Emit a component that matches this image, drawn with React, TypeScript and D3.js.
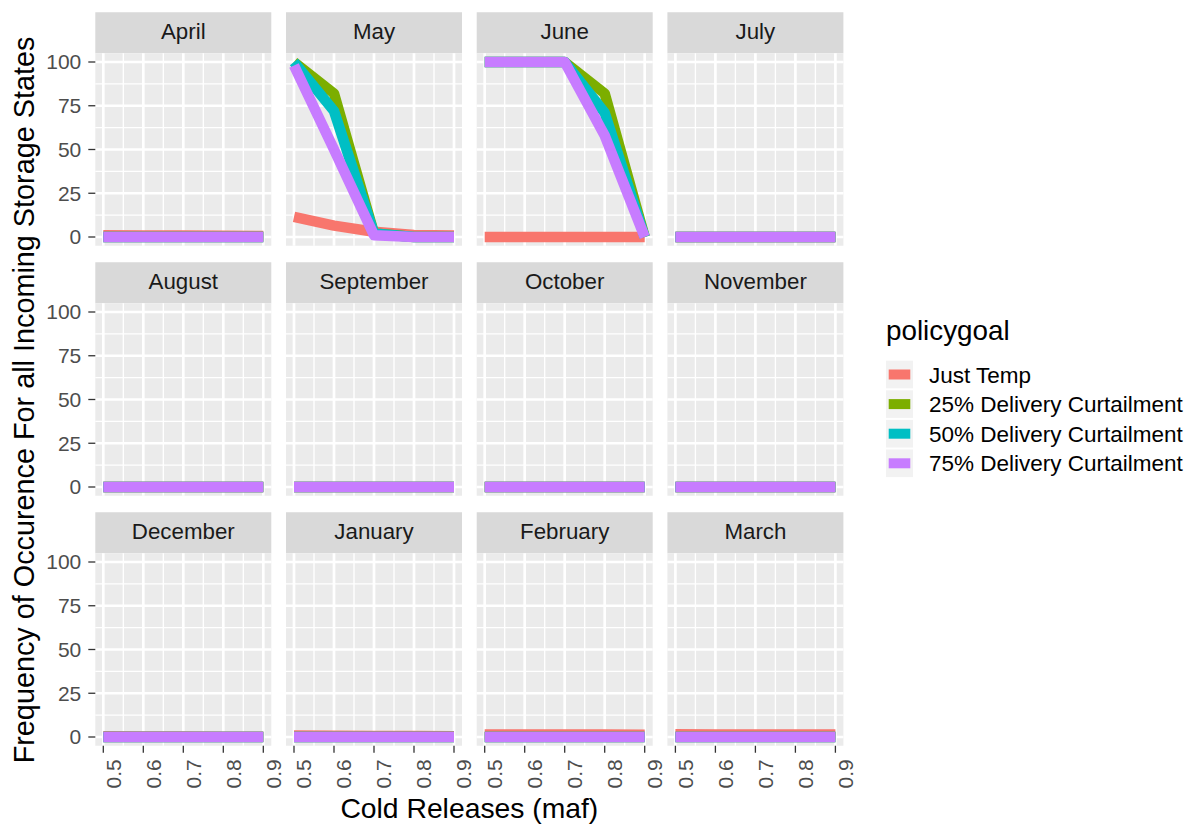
import React from "react";
import * as d3 from "d3";

const months = ["April", "May", "June", "July", "August", "September", "October", "November", "December", "January", "February", "March"];
const releases = [0.5, 0.6, 0.7, 0.8, 0.9];
const policyGoals = ["Just Temp", "25% Delivery Curtailment", "50% Delivery Curtailment", "75% Delivery Curtailment"];
const goalColors = ["#F8766D", "#7CAE00", "#00BFC4", "#C77CFF"];
const xTicks = [0.5, 0.6, 0.7, 0.8, 0.9];
const xMinor = [0.55, 0.65, 0.75, 0.85];
const yTicks = [0, 25, 50, 75, 100];
const yMinor = [12.5, 37.5, 62.5, 87.5];

// values per month (rows) at each cold release (columns)
const justTemp = [
  [1.0, 0.9, 0.8, 0.7, 0.6],
  [11.5, 6.5, 3, 1.2, 0.8],
  [0, 0, 0, 0, 0],
  [0, 0, 0, 0, 0],
  [0, 0, 0, 0, 0],
  [0, 0, 0, 0, 0],
  [0, 0, 0, 0, 0],
  [0, 0, 0, 0, 0],
  [0.4, 0.3, 0.3, 0.2, 0.2],
  [0.8, 0.7, 0.6, 0.6, 0.5],
  [1.5, 1.5, 1.4, 1.4, 1.3],
  [1.6, 1.5, 1.5, 1.4, 1.4],
];
const curtail25 = [
  [0, 0, 0, 0, 0],
  [100, 82, 2, 0, 0],
  [100, 100, 100, 82, 0],
  [0, 0, 0, 0, 0],
  [0, 0, 0, 0, 0],
  [0, 0, 0, 0, 0],
  [0, 0, 0, 0, 0],
  [0, 0, 0, 0, 0],
  [0, 0, 0, 0, 0],
  [0, 0, 0, 0, 0],
  [0, 0, 0, 0, 0],
  [0, 0, 0, 0, 0],
];
const curtail50 = [
  [0, 0, 0, 0, 0],
  [100, 72, 2, 0, 0],
  [100, 100, 100, 71, 0],
  [0, 0, 0, 0, 0],
  [0, 0, 0, 0, 0],
  [0, 0, 0, 0, 0],
  [0, 0, 0, 0, 0],
  [0, 0, 0, 0, 0],
  [0, 0, 0, 0, 0],
  [0, 0, 0, 0, 0],
  [0, 0, 0, 0, 0],
  [0, 0, 0, 0, 0],
];
const curtail75 = [
  [0, 0, 0, 0, 0],
  [98, 50, 1, 0, 0],
  [100, 100, 100, 58, 0],
  [0, 0, 0, 0, 0],
  [0, 0, 0, 0, 0],
  [0, 0, 0, 0, 0],
  [0, 0, 0, 0, 0],
  [0, 0, 0, 0, 0],
  [0, 0, 0, 0, 0],
  [0, 0, 0, 0, 0],
  [0, 0, 0, 0, 0],
  [0, 0, 0, 0, 0],
];
const seriesData = [justTemp, curtail25, curtail50, curtail75];

const FONT = "'Liberation Sans', Arial, Helvetica, sans-serif";

export default function App() {
  const W = 1198, H = 828;
  const colX = [95.3, 286, 476.7, 667.4];
  const rowY = [53.25, 303.25, 553.25];
  const panelW = 176, panelH = 192.5, stripH = 41;
  const x = d3.scaleLinear().domain([0.48, 0.92]).range([0, panelW]);
  const y = d3.scaleLinear().domain([-5, 105]).range([panelH, 0]);
  const line = d3.line<number>().x((_, i) => x(releases[i])).y((d) => y(d));
  const lw = 10.5;

  const legendX = 886, legendKeyTop = 360.7, keyStep = 29.6, keyW = 27, keyH = 27.6;

  return (
    <svg width={W} height={H} style={{ position: "absolute", left: 0, top: 0, background: "#fff" }} fontFamily={FONT}>
      <rect x={0} y={0} width={W} height={H} fill="#fff" />
      {months.map((m, mi) => {
        const c = mi % 4, r = Math.floor(mi / 4);
        const px = colX[c], py = rowY[r];
        return (
          <g key={m} transform={`translate(${px},${py})`}>
            <rect x={0} y={-stripH} width={panelW} height={stripH} fill="#D9D9D9" />
            <text x={panelW / 2} y={-stripH / 2 - 1.5} dy="0.35em" textAnchor="middle" fontSize={22.3} fill="#1A1A1A">{m}</text>
            <rect x={0} y={0} width={panelW} height={panelH} fill="#EBEBEB" />
            {xMinor.map((t) => (
              <line key={"xm" + t} x1={x(t)} x2={x(t)} y1={0} y2={panelH} stroke="#fff" strokeWidth={1.35} />
            ))}
            {yMinor.map((t) => (
              <line key={"ym" + t} x1={0} x2={panelW} y1={y(t)} y2={y(t)} stroke="#fff" strokeWidth={1.35} />
            ))}
            {xTicks.map((t) => (
              <line key={"xM" + t} x1={x(t)} x2={x(t)} y1={0} y2={panelH} stroke="#fff" strokeWidth={2.7} />
            ))}
            {yTicks.map((t) => (
              <line key={"yM" + t} x1={0} x2={panelW} y1={y(t)} y2={y(t)} stroke="#fff" strokeWidth={2.7} />
            ))}
            {seriesData.map((s, si) => (
              <path key={si} d={line(s[mi]) || ""} fill="none" stroke={goalColors[si]} strokeWidth={lw} strokeLinejoin="round" strokeLinecap="butt" />
            ))}
            {c === 0 &&
              yTicks.map((t) => (
                <g key={"yt" + t}>
                  <line x1={-7} x2={0} y1={y(t)} y2={y(t)} stroke="#333" strokeWidth={1.3} />
                  <text x={-14} y={y(t)} dy="0.35em" textAnchor="end" fontSize={21} fill="#4D4D4D">{t}</text>
                </g>
              ))}
            {r === 2 &&
              xTicks.map((t) => (
                <g key={"xt" + t}>
                  <line x1={x(t)} x2={x(t)} y1={panelH} y2={panelH + 7} stroke="#333" strokeWidth={1.3} />
                  <text transform={`translate(${x(t) + 17.3},${panelH + 13.5}) rotate(-90)`} textAnchor="end" fontSize={21} fill="#4D4D4D">{t.toFixed(1)}</text>
                </g>
              ))}
          </g>
        );
      })}
      <text x={(colX[0] + colX[3] + panelW) / 2} y={818} textAnchor="middle" fontSize={28.3} fill="#000">Cold Releases (maf)</text>
      <text transform={`translate(34,400) rotate(-90)`} textAnchor="middle" fontSize={28.8} fill="#000">Frequency of Occurence For all Incoming Storage States</text>
      <text x={legendX} y={340} fontSize={27.8} fill="#000">policygoal</text>
      {policyGoals.map((g, i) => {
        const ky = legendKeyTop + i * keyStep;
        return (
          <g key={g}>
            <rect x={legendX} y={ky} width={keyW} height={keyH} fill="#F2F2F2" />
            <line x1={legendX + 2.7} x2={legendX + keyW - 2.7} y1={ky + keyH / 2} y2={ky + keyH / 2} stroke={goalColors[i]} strokeWidth={10} />
            <text x={929} y={ky + keyH / 2} dy="0.36em" fontSize={22.5} fill="#000">{g}</text>
          </g>
        );
      })}
    </svg>
  );
}
